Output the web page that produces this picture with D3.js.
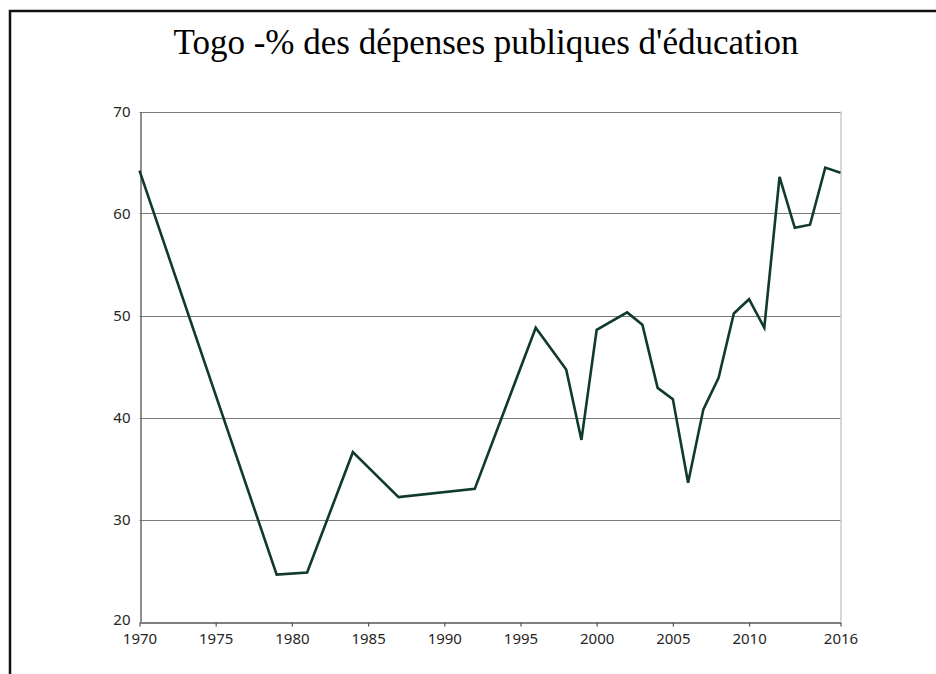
<!DOCTYPE html>
<html>
<head>
<meta charset="utf-8">
<script src="https://cdn.jsdelivr.net/npm/d3@7"></script>
<style>
  body { margin: 0; background: #fff; }
  svg { display: block; }
</style>
</head>
<body>
<svg id="chart" width="936" height="674"></svg>
<script>
// values
var years  = [1970, 1979, 1981, 1984, 1987, 1992, 1996, 1998, 1999, 2000, 2002, 2003,
              2004, 2005, 2006, 2007, 2008, 2009, 2010, 2011, 2012, 2013, 2014, 2015, 2016];
var values = [64.2, 24.6, 24.8, 36.6, 32.2, 33.0, 48.8, 44.7, 37.8, 48.6, 50.3, 49.1,
              42.9, 41.8, 33.6, 40.8, 43.9, 50.2, 51.6, 48.8, 63.6, 58.6, 58.9, 64.5, 64.0];
var xTicks = [1970, 1975, 1980, 1985, 1990, 1995, 2000, 2005, 2010, 2016];
var yTicks = [20, 30, 40, 50, 60, 70];
var title = "Togo -% des dépenses publiques d'éducation";

var svg = d3.select("#chart");

// outer frame (only left + top edges are in the picture)
svg.append("path")
    .attr("d", "M10,674 V11 H936")
    .attr("fill", "none")
    .attr("stroke", "#111")
    .attr("stroke-width", 2.5);

svg.append("text")
    .attr("x", 486)
    .attr("y", 54)
    .attr("text-anchor", "middle")
    .style("font-family", "'Liberation Serif', 'Times New Roman', serif")
    .style("font-size", "35px")
    .attr("fill", "#000")
    .text(title);

var x = d3.scaleLinear().domain([1970, 2016]).range([139.5, 840.5]);
var y = d3.scaleLinear().domain([20, 70]).range([621.5, 111.5]);

// gridlines
svg.append("g")
    .selectAll("line")
    .data(yTicks.filter(d => d > 20))
    .join("line")
    .attr("x1", x(1970))
    .attr("x2", x(2016))
    .attr("y1", d => Math.round(y(d)) + 0.5)
    .attr("y2", d => Math.round(y(d)) + 0.5)
    .attr("stroke", "#7a7a7a")
    .attr("stroke-width", 1.2);

// right border of plot
svg.append("line")
    .attr("x1", x(2016) + 0.5).attr("x2", x(2016) + 0.5)
    .attr("y1", y(70)).attr("y2", y(20))
    .attr("stroke", "#b0b0b0");

var labelFont = "'Noto Sans', 'Open Sans', sans-serif";

// y axis
var yAxis = svg.append("g")
    .attr("transform", "translate(" + (Math.round(x(1970)) + 0.5) + ",0)")
    .call(d3.axisLeft(y).tickValues(yTicks).tickSize(0).tickPadding(10));
yAxis.select(".domain").attr("stroke", "#6a6a6a").attr("stroke-width", 1.5);
yAxis.selectAll("text")
    .style("font-family", labelFont)
    .style("font-size", "15px")
    .attr("fill", "#262626");
// the "20" label sits a hair higher so it clears "1970"
yAxis.selectAll(".tick").filter(d => d === 20).select("text").attr("dy", "0.2em");

// x axis
var xAxis = svg.append("g")
    .attr("transform", "translate(0," + (Math.round(y(20)) + 0.5) + ")")
    .call(d3.axisBottom(x).tickValues(xTicks).tickFormat(d3.format("d")).tickSize(4).tickSizeOuter(0).tickPadding(7));
xAxis.select(".domain").attr("stroke", "#555").attr("stroke-width", 1.5);
xAxis.selectAll(".tick line").attr("stroke", "#555").attr("stroke-width", 1.2);
xAxis.selectAll("text")
    .style("font-family", labelFont)
    .style("font-size", "15px")
    .attr("fill", "#262626");

var line = d3.line()
    .x((d, i) => x(years[i]))
    .y(d => y(d));

svg.append("path")
    .datum(values)
    .attr("fill", "none")
    .attr("stroke", "#0f3a2c")
    .attr("stroke-width", 2.6)
    .attr("stroke-linejoin", "miter")
    .attr("d", line);
</script>
</body>
</html>
